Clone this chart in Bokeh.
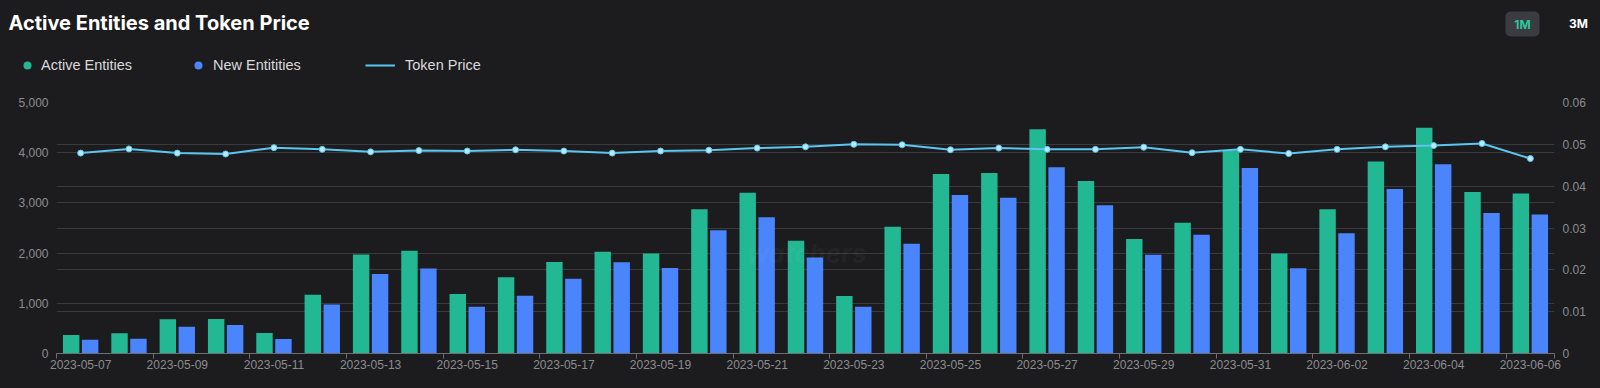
from bokeh.plotting import figure
from bokeh.models import (Range1d, LinearAxis, FixedTicker, NumeralTickFormatter, Grid,
                          ColumnDataSource, Label, Legend, LegendItem, BoxAnnotation)
from bokeh.transform import dodge
from bokeh.embed import file_html
from bokeh.resources import INLINE

dates = ["2023-05-07", "2023-05-08", "2023-05-09", "2023-05-10", "2023-05-11", "2023-05-12",
         "2023-05-13", "2023-05-14", "2023-05-15", "2023-05-16", "2023-05-17", "2023-05-18",
         "2023-05-19", "2023-05-20", "2023-05-21", "2023-05-22", "2023-05-23", "2023-05-24",
         "2023-05-25", "2023-05-26", "2023-05-27", "2023-05-28", "2023-05-29", "2023-05-30",
         "2023-05-31", "2023-06-01", "2023-06-02", "2023-06-03", "2023-06-04", "2023-06-05",
         "2023-06-06"]
active = [368, 401, 682, 689, 408, 1170, 1972, 2045, 1183, 1517, 1825, 2025, 1992, 2874, 3202,
          2246, 1143, 2527, 3576, 3596, 4465, 3436, 2279, 2607, 4051, 1992, 2874, 3824, 4499,
          3215, 3189]
new = [274, 294, 535, 568, 287, 976, 1584, 1691, 929, 1150, 1491, 1818, 1705, 2453, 2714,
       1912, 929, 2186, 3155, 3102, 3710, 2955, 1965, 2366, 3697, 1698, 2393, 3275, 3770,
       2801, 2767]
price = [0.0479, 0.0489, 0.0479, 0.0477, 0.0492, 0.0488, 0.0482, 0.0485, 0.0484, 0.0487,
         0.0484, 0.0479, 0.0484, 0.0486, 0.0491, 0.0494, 0.0500, 0.0499, 0.0487, 0.0491,
         0.0488, 0.0488, 0.0493, 0.0480, 0.0488, 0.0478, 0.0488, 0.0494, 0.0497, 0.0502,
         0.0466]
left_ticks = [0, 1000, 2000, 3000, 4000, 5000]
right_ticks = [0, 0.01, 0.02, 0.03, 0.04, 0.05, 0.06]
series_names = ["Active Entities", "New Entitities", "Token Price"]
ranges = ["1M", "3M"]

BG = "#1c1c1e"
GREEN = "#22b893"
BLUE = "#4a85fd"
LINE = "#5bc6ef"
GRID = "#3a3a3d"
TICK_TXT = "#8c8c90"
FONT = "Liberation Sans"
W = 1600
HH = 80
MH = 388 - HH

n = len(dates)
xs = [i + 0.5 for i in range(n)]
src = ColumnDataSource(dict(x=xs, date=dates, active=active, new=new, price=price))

# ---------------- header: title, legend, range buttons ----------------
hdr = figure(width=W, height=HH, output_backend="svg", toolbar_location=None,
             x_range=Range1d(0, W), y_range=Range1d(0, HH),
             background_fill_color=BG, border_fill_color=BG, outline_line_color=None,
             min_border=0, x_axis_type=None, y_axis_type=None)
hdr.xgrid.visible = False
hdr.ygrid.visible = False

hdr.add_layout(Label(x=8, y=HH - 22, x_units="screen", y_units="screen",
                     text="Active Entities and Token Price", text_baseline="middle",
                     text_font="Inter", text_font_style="bold", text_font_size="20px",
                     text_color="#ffffff"))
hdr.add_layout(BoxAnnotation(left=1505, right=1539, bottom=HH - 36, top=HH - 11,
                             left_units="screen", right_units="screen",
                             bottom_units="screen", top_units="screen",
                             fill_color="#3a3c41", fill_alpha=1, line_color=None,
                             border_radius=5))
hdr.add_layout(Label(x=1522, y=HH - 23.5, x_units="screen", y_units="screen", text=ranges[0],
                     text_align="center", text_baseline="middle", text_font="Inter",
                     text_font_style="bold", text_font_size="12px", text_color="#2fc59c"))
hdr.add_layout(Label(x=1578, y=HH - 23, x_units="screen", y_units="screen", text=ranges[1],
                     text_align="center", text_baseline="middle", text_font="Inter",
                     text_font_style="bold", text_font_size="12px", text_color="#ffffff"))

proxy = ColumnDataSource(dict(x=[-200, -100], y=[-50, -50]))
g_r = hdr.scatter("x", "y", source=proxy, size=9, fill_color=GREEN, line_color=None)
b_r = hdr.scatter("x", "y", source=proxy, size=9, fill_color=BLUE, line_color=None)
l_r = hdr.line("x", "y", source=proxy, line_color=LINE, line_width=2)

def mk_legend(label, rend, loc, gw, standoff):
    lg = Legend(items=[LegendItem(label=label, renderers=[rend])], location=loc,
                orientation="horizontal", glyph_width=gw, glyph_height=20, label_height=20,
                label_standoff=standoff, padding=0, margin=0, spacing=0,
                border_line_color=None, background_fill_alpha=0,
                label_text_font=FONT, label_text_font_size="14.5px",
                label_text_color="#d9d9dc", label_text_baseline="middle")
    hdr.add_layout(lg, "center")

mk_legend(series_names[0], g_r, (17, 5), 20, 4)
mk_legend(series_names[1], b_r, (188, 5), 20, 5)
mk_legend(series_names[2], l_r, (365, 5), 30, 10)

# ---------------- main chart ----------------
p = figure(width=W, height=MH, output_backend="svg", toolbar_location=None,
           x_range=Range1d(0, n), y_range=Range1d(0, 5000),
           background_fill_color=BG, border_fill_color=BG, outline_line_color=None,
           min_border_left=56, min_border_right=46, min_border_top=22, min_border_bottom=35)
p.extra_y_ranges = {"price": Range1d(0, 0.06)}

xax = p.xaxis[0]
xax.ticker = FixedTicker(ticks=xs[::2], minor_ticks=list(range(0, n, 2)) + [n])
xax.major_label_overrides = {xs[i]: dates[i] for i in range(0, n, 2)}
xax.major_tick_line_color = None
xax.major_tick_out = 0
xax.minor_tick_in = 0
xax.minor_tick_out = 5
xax.minor_tick_line_color = "#6e6e72"
xax.axis_line_color = "#6e6e72"
xax.major_label_standoff = 1
xax.major_label_text_font = FONT
xax.major_label_text_font_size = "12px"
xax.major_label_text_color = TICK_TXT

yax = p.yaxis[0]
yax.ticker = FixedTicker(ticks=left_ticks)
yax.formatter = NumeralTickFormatter(format="0,0")
yax.axis_line_color = None
yax.major_tick_line_color = None
yax.minor_tick_line_color = None
yax.major_tick_out = 0
yax.major_label_standoff = 8
yax.major_label_text_font = FONT
yax.major_label_text_font_size = "12px"
yax.major_label_text_color = TICK_TXT

rax = LinearAxis(y_range_name="price", ticker=FixedTicker(ticks=right_ticks),
                 formatter=NumeralTickFormatter(format="0.[00]"))
rax.axis_line_color = None
rax.major_tick_line_color = None
rax.minor_tick_line_color = None
rax.major_tick_out = 0
rax.major_label_standoff = 8
rax.major_label_text_font = FONT
rax.major_label_text_font_size = "12px"
rax.major_label_text_color = TICK_TXT
p.add_layout(rax, "right")

p.xgrid.visible = False
p.ygrid.ticker = FixedTicker(ticks=left_ticks)
p.ygrid.grid_line_color = GRID
rgrid = Grid(dimension=1, ticker=FixedTicker(ticks=right_ticks), y_range_name="price",
             grid_line_color=GRID)
p.add_layout(rgrid)

p.add_layout(Label(x=750, y=100, x_units="screen", y_units="screen", text="watchers",
                   text_align="center", text_baseline="middle", text_font="Inter",
                   text_font_style="bold italic", text_font_size="26px",
                   text_color="#ffffff", text_alpha=0.05))

bw = 0.34
p.vbar(x=dodge("x", -0.196), top="active", width=bw, source=src, color=GREEN, line_color=None)
p.vbar(x=dodge("x", 0.196), top="new", width=bw, source=src, color=BLUE, line_color=None)
p.line("x", "price", source=src, y_range_name="price", line_color=LINE, line_width=2)
p.scatter("x", "price", source=src, y_range_name="price", size=6, fill_color="#b8eafb",
          line_color=LINE, line_width=1)

html = file_html([hdr, p], INLINE)
html = html.replace("</head>", "<style>html,body{background:#1c1c1e;}</style></head>")
open("out.html", "w").write(html)
